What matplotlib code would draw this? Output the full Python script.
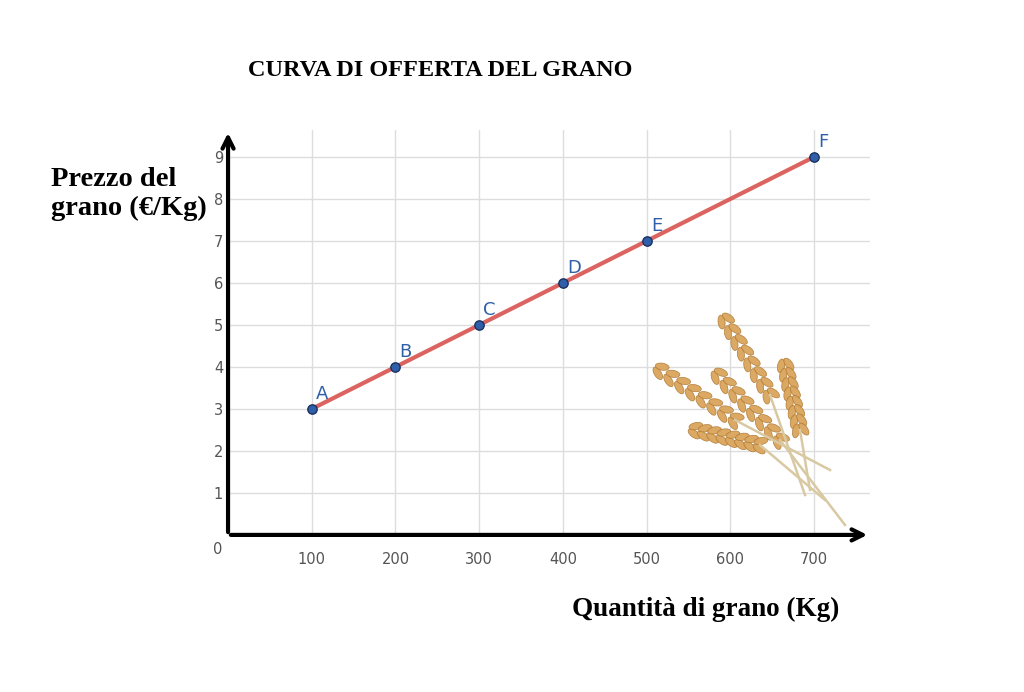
import matplotlib.pyplot as plt
from matplotlib.patches import Ellipse
from matplotlib.transforms import IdentityTransform
import numpy as np

quantita = [100, 200, 300, 400, 500, 700]
prezzo = [3, 4, 5, 6, 7, 9]
punti = ['A', 'B', 'C', 'D', 'E', 'F']

fig = plt.figure(figsize=(10.24, 6.92), dpi=100)
ax = fig.add_axes([0.2227, 0.227, 0.627, 0.585])
ax.set_xlim(0, 767)
ax.set_ylim(0, 9.64)

ax.set_xticks(range(100, 701, 100))
ax.set_yticks(range(1, 10))
ax.grid(True, color='#dddddd', linewidth=1)
ax.tick_params(length=0, labelcolor='#555555', labelsize=10.5)
ax.tick_params(axis='x', pad=12)
for s in ax.spines.values():
    s.set_visible(False)
ax.text(-12, -0.35, '0', ha='center', va='center', color='#555555', fontsize=10.5)

# assi con frecce
ax.annotate('', xy=(767, 0), xytext=(0, 0),
            arrowprops=dict(arrowstyle='->', lw=3, color='black', mutation_scale=20))
ax.annotate('', xy=(0, 9.64), xytext=(0, 0),
            arrowprops=dict(arrowstyle='->', lw=3, color='black', mutation_scale=20))

ax.plot(quantita, prezzo, color='#d9534f', lw=3, alpha=0.9, zorder=3)
ax.scatter(quantita, prezzo, s=45, color='#2f5fa8', edgecolor='#1a3060', zorder=4)
for x, y, p in zip(quantita, prezzo, punti):
    ax.text(x + 5, y + 0.15, p, color='#2f5fa8', fontsize=13, va='bottom')

# spighe di grano (decorazione, coordinate in pixel dall'alto)
H = 692
tr = IdentityTransform()
spighe = [((660, 370), (735, 420), (830, 470)),
          ((725, 320), (770, 395), (805, 495)),
          ((718, 375), (780, 440), (845, 525)),
          ((785, 365), (800, 430), (810, 490)),
          ((695, 430), (760, 445), (825, 500))]
for (x0, y0), (x1, y1), (x2, y2) in spighe:
    fig.add_artist(plt.Line2D([x1, x2], [H - y1, H - y2], transform=tr,
                              color='#d9c9a3', lw=1.8))
    ang = np.degrees(np.arctan2(-(y1 - y0), x1 - x0))
    for t in np.linspace(0, 1, 8):
        cx = x0 + (x1 - x0) * t
        cy = y0 + (y1 - y0) * t
        for off in (-4, 4):
            nx = -np.sin(np.radians(ang)) * off
            ny = np.cos(np.radians(ang)) * off
            fig.add_artist(Ellipse((cx + nx, H - cy + ny), 14, 7, angle=ang + off * 6,
                                   transform=tr, facecolor='#d9a55b',
                                   edgecolor='#b07a35', lw=0.5, alpha=0.95))

serif = 'Liberation Serif'
fig.text(0.43, 0.89, 'CURVA DI OFFERTA DEL GRANO', family=serif, weight='bold',
         fontsize=17.5, ha='center')
fig.text(0.05, 0.69, 'Prezzo del\ngrano (€/Kg)', family=serif, weight='bold',
         fontsize=20.5, ha='left', linespacing=1.2)
fig.text(0.82, 0.11, 'Quantità di grano (Kg)', family=serif, weight='bold',
         fontsize=19.5, ha='right')

fig.savefig('out.png', dpi=100)
